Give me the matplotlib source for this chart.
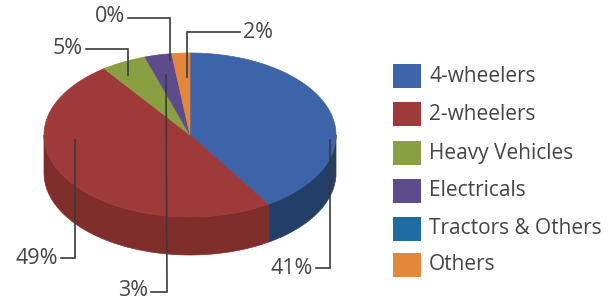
import numpy as np
import matplotlib.pyplot as plt
from matplotlib.patches import Polygon, Rectangle

# shares of the segments, clockwise from 12 o'clock
categories = ["4-wheelers", "2-wheelers", "Heavy Vehicles", "Electricals",
              "Tractors & Others", "Others"]
values = [41, 49, 5, 3, 0, 2]
pct_labels = ["41%", "49%", "5%", "3%", "0%", "2%"]

top_colors = ["#3d63a8", "#9e3a39", "#8a9e42", "#5d4b8c", "#1f6ca3", "#e3873a"]
side_colors = ["#233f68", "#802e2c", "#5f6e2c", "#3d3060", "#154a70", "#a85f25"]

plt.rcParams["font.family"] = ["Open Sans", "DejaVu Sans"]

fig = plt.figure(figsize=(6.13, 3.02), dpi=100)
ax = fig.add_axes([0, 0, 1, 1])
ax.set_xlim(0, 613)
ax.set_ylim(302, 0)
ax.axis("off")

cx, cy = 190, 135
rx, ry = 146, 82
depth = 38


def pt(t, dz=0):
    return cx + rx * np.cos(t), cy - ry * np.sin(t) + dz


fracs = np.array(values, dtype=float) / sum(values)
ends = np.pi / 2 - 2 * np.pi * np.cumsum(fracs)
starts = np.concatenate([[np.pi / 2], ends[:-1]])

# side walls (front half only)
for a0, a1, col in zip(starts, ends, side_colors):
    lo, hi = min(a0, a1), max(a0, a1)
    for shift in (0, -2 * np.pi, 2 * np.pi):
        l, h = lo + shift, hi + shift
        l2, h2 = max(l, -np.pi), min(h, 0)
        if h2 > l2:
            t = np.linspace(l2, h2, 80)
            xs, ys = pt(t)
            xb, yb = pt(t[::-1], depth)
            poly = np.column_stack([np.concatenate([xs, xb]), np.concatenate([ys, yb])])
            ax.add_patch(Polygon(poly, closed=True, facecolor=col, edgecolor=col, lw=0.5))

# top faces
for a0, a1, col in zip(starts, ends, top_colors):
    if a0 == a1:
        continue
    t = np.linspace(a0, a1, 120)
    xs, ys = pt(t)
    poly = np.column_stack([np.concatenate([[cx], xs]), np.concatenate([[cy], ys])])
    ax.add_patch(Polygon(poly, closed=True, facecolor=col, edgecolor=col, lw=0.5))

# percentage labels with elbow leader lines
txt_col = "#444444"
line_kw = dict(color="#3a3a3a", lw=1.2, solid_joinstyle="miter")
text_kw = dict(fontsize=15.5, color=txt_col, va="center")
leaders = [
    # (text x, text y, ha, polyline)
    (313, 268, "right", [(316, 268), (330, 268), (330, 140)]),
    (58, 258, "right", [(61, 258), (75, 258), (75, 140)]),
    (83, 49, "right", [(86, 49), (128, 49), (128, 75)]),
    (148, 291, "right", [(151, 292), (167, 292), (166, 75)]),
    (125, 17, "right", [(128, 18), (170, 18), (170, 60)]),
    (243, 33, "left", [(240, 32), (187, 32), (187, 77)]),
]
for lab, (tx, ty, ha, path) in zip(pct_labels, leaders):
    xs, ys = zip(*path)
    ax.plot(xs, ys, **line_kw)
    ax.text(tx, ty, lab, ha=ha, **text_kw)

# legend
row_y = [76, 114, 153, 191, 229, 265]
for name, col, y in zip(categories, top_colors, row_y):
    ax.add_patch(Rectangle((393, y - 12), 28, 24, facecolor=col, edgecolor="none"))
    ax.text(429, y, name, fontsize=15, color=txt_col, va="center", ha="left")

fig.savefig("out.png", dpi=100)
